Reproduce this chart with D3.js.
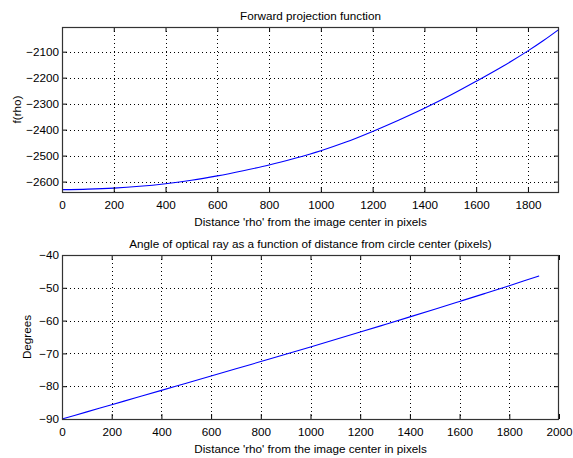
<!DOCTYPE html>
<html>
<head>
<meta charset="utf-8">
<script src="https://cdn.jsdelivr.net/npm/d3@7"></script>
<style>
  html, body { margin: 0; padding: 0; background: #fff; }
  svg { display: block; }
  text { font-family: "Liberation Sans", Arial, sans-serif; font-size: 11.7px; fill: #000; }
</style>
</head>
<body>
<svg id="chart" width="573" height="458"></svg>
<script>
// ---- data ----
const rho = [0, 100, 200, 300, 400, 500, 600, 700, 800, 900, 1000, 1100, 1200, 1300, 1400, 1500, 1600, 1700, 1800, 1860, 1920];
const fRho = [-2631, -2629, -2625, -2618, -2608, -2595, -2578, -2558, -2536, -2510, -2481, -2447, -2407, -2364, -2318, -2268, -2214, -2158, -2097, -2057, -2014];
const angleDeg = [-90, -87.82, -85.64, -83.46, -81.28, -79.09, -76.90, -74.70, -72.49, -70.28, -68.05, -65.79, -63.50, -61.19, -58.87, -56.52, -54.15, -51.77, -49.36, -47.88, -46.37];

const topXTicks = [0, 200, 400, 600, 800, 1000, 1200, 1400, 1600, 1800];
const topYTicks = [-2600, -2500, -2400, -2300, -2200, -2100];
const botXTicks = [0, 200, 400, 600, 800, 1000, 1200, 1400, 1600, 1800, 2000];
const botYTicks = [-90, -80, -70, -60, -50, -40];

const titles = ["Forward projection function", "Angle of optical ray as a function of distance from circle center (pixels)"];
const xLabel = "Distance 'rho' from the image center in pixels";
const yLabels = ["f(rho)", "Degrees"];

// ---- drawing ----
const svg = d3.select("#chart");
const FS = 11.7;

function panel(opts) {
  const {left, right, top, bottom, xDomain, yDomain, xTicks, yTicks, xs, ys, title, yLabel, yLabelX} = opts;
  const x = d3.scaleLinear().domain(xDomain).range([left, right]);
  const y = d3.scaleLinear().domain(yDomain).range([bottom, top]);
  const g = svg.append("g");

  // grid
  const grid = g.append("g").attr("stroke", "#000").attr("stroke-width", 1).attr("stroke-dasharray", "1,3");
  xTicks.filter(t => x(t) > left + 1 && x(t) < right - 1).forEach(t => {
    const px = Math.round(x(t)) + 0.5;
    grid.append("line").attr("x1", px).attr("x2", px).attr("y1", top).attr("y2", bottom);
  });
  yTicks.filter(t => y(t) > top + 1 && y(t) < bottom - 1).forEach(t => {
    const py = Math.round(y(t)) + 0.5;
    grid.append("line").attr("x1", left).attr("x2", right).attr("y1", py).attr("y2", py);
  });

  // data line
  const line = d3.line().curve(d3.curveMonotoneX).x((d, i) => x(xs[i])).y((d, i) => y(ys[i]));
  g.append("path").datum(xs).attr("d", line).attr("fill", "none")
    .attr("stroke", "#0000ff").attr("stroke-width", 1.1);

  // axes (inward ticks)
  const bottomAxis = d3.axisBottom(x).tickValues(xTicks).tickSize(-5).tickPadding(9).tickFormat(d3.format("d"));
  const topAxis = d3.axisTop(x).tickValues(xTicks).tickSize(-5).tickFormat("");
  const leftAxis = d3.axisLeft(y).tickValues(yTicks).tickSize(-5).tickPadding(3).tickFormat(d3.format("d"));
  const rightAxis = d3.axisRight(y).tickValues(yTicks).tickSize(-5).tickFormat("");

  const styleAxis = sel => {
    sel.select(".domain").remove();
    sel.selectAll(".tick line").attr("stroke", "#000");
    sel.selectAll("text").attr("font-family", "Liberation Sans, Arial, sans-serif").attr("font-size", FS).attr("fill", "#000");
  };
  g.append("g").attr("transform", `translate(0,${bottom})`).call(bottomAxis).call(styleAxis);
  g.append("g").attr("transform", `translate(0,${top})`).call(topAxis).call(styleAxis);
  g.append("g").attr("transform", `translate(${left},0)`).call(leftAxis).call(styleAxis);
  g.append("g").attr("transform", `translate(${right},0)`).call(rightAxis).call(styleAxis);

  // box
  g.append("rect").attr("x", left + 0.5).attr("y", top + 0.5)
    .attr("width", right - left - 1).attr("height", bottom - top)
    .attr("fill", "none").attr("stroke", "#333").attr("stroke-width", 1.2);

  // title
  g.append("text").attr("x", (left + right) / 2).attr("y", top - 7)
    .attr("text-anchor", "middle").text(title);
  // x label
  g.append("text").attr("x", (left + right) / 2).attr("y", bottom + 34)
    .attr("text-anchor", "middle").text(xLabel);
  // y label
  g.append("text").attr("transform", `translate(${yLabelX},${(top + bottom) / 2}) rotate(-90)`)
    .attr("text-anchor", "middle").text(yLabel);
}

panel({
  left: 62, right: 559, top: 27, bottom: 192,
  xDomain: [0, 1920], yDomain: [-2640, -2005],
  xTicks: topXTicks, yTicks: topYTicks,
  xs: rho, ys: fRho, title: titles[0], yLabel: yLabels[0], yLabelX: 21
});
panel({
  left: 62, right: 559, top: 255, bottom: 419,
  xDomain: [0, 2000], yDomain: [-90, -40],
  xTicks: botXTicks, yTicks: botYTicks,
  xs: rho, ys: angleDeg, title: titles[1], yLabel: yLabels[1], yLabelX: 31
});
</script>
</body>
</html>
